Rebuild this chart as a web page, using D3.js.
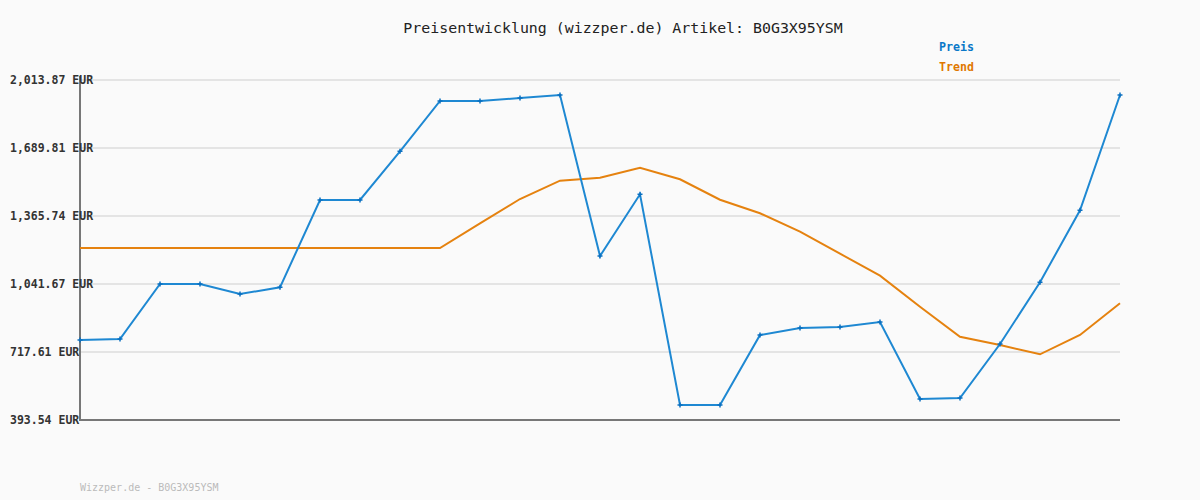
<!DOCTYPE html>
<html><head><meta charset="utf-8">
<script src="https://cdn.jsdelivr.net/npm/d3@7"></script>
<style>
html,body{margin:0;padding:0;background:#fafafa;}
svg{display:block;}
text{font-family:"DejaVu Sans Mono","Liberation Mono",monospace;}
</style></head>
<body>
<svg id="chart" width="1200" height="500"></svg>
<script>
const title = "Preisentwicklung (wizzper.de) Artikel: B0G3X95YSM";
const footer = "Wizzper.de - B0G3X95YSM";
const seriesNames = ["Preis", "Trend"];
const tickValues = [393.54, 717.61, 1041.67, 1365.74, 1689.81, 2013.87];
const priceValues = [774.8, 779.6, 1041.7, 1041.7, 994.0, 1025.9, 1442.0, 1442.0, 1674.1, 1913.8,
  1913.8, 1928.1, 1942.4, 1175.1, 1469.1, 465.0, 465.0, 798.6, 832.0, 836.8,
  860.6, 493.6, 498.4, 755.7, 1049.8, 1392.9, 1942.4];
const trendValues = [1213.2, 1213.2, 1213.2, 1213.2, 1213.2, 1213.2, 1213.2, 1213.2, 1213.2, 1213.2,
  1330.9, 1446.7, 1533.9, 1548.2, 1595.9, 1540.6, 1443.4, 1378.6, 1290.9, 1186.1,
  1081.2, 933.5, 790.5, 751.0, 706.6, 798.6, 949.7];

(function () {
const svg = d3.select("#chart");
const pl = 80, pr = 1120, pt = 80, pb = 420;
const x = d3.scaleLinear().domain([0, priceValues.length - 1]).range([pl, pr]);
const y = d3.scaleLinear().domain([tickValues[0], tickValues[tickValues.length - 1]]).range([pb, pt]);

svg.append("rect").attr("width", 1200).attr("height", 500).attr("fill", "#fafafa");

// grid
svg.append("g").selectAll("line").data(tickValues.slice(1)).join("line")
  .attr("x1", pl).attr("x2", pr)
  .attr("y1", d => y(d)).attr("y2", d => y(d))
  .attr("stroke", "#e4e4e4").attr("stroke-width", 2);

// axes lines
svg.append("line").attr("x1", pl).attr("x2", pl).attr("y1", pt - 4).attr("y2", pb)
  .attr("stroke", "#777").attr("stroke-width", 2);
svg.append("line").attr("x1", pl - 1).attr("x2", pr).attr("y1", pb).attr("y2", pb)
  .attr("stroke", "#777").attr("stroke-width", 2);

// y labels
const fmt = d3.format(",.2f");
svg.append("g").selectAll("text").data(tickValues).join("text")
  .attr("x", 10).attr("y", d => y(d) + 4)
  .attr("font-size", "11.5px").attr("font-weight", "bold").attr("fill", "#333")
  .text(d => fmt(d) + " EUR");

const line = d3.line().x((d, i) => x(i)).y(d => y(d));

svg.append("path").datum(trendValues).attr("d", line)
  .attr("fill", "none").attr("stroke", "#e5820f").attr("stroke-width", 2);

svg.append("path").datum(priceValues).attr("d", line)
  .attr("fill", "none").attr("stroke", "#1e88d2").attr("stroke-width", 2);

// markers
const mk = svg.append("g");
priceValues.forEach((v, i) => {
  const cx = x(i), cy = y(v);
  mk.append("path").attr("d", `M${cx-2.5},${cy}L${cx+2.5},${cy}M${cx},${cy-2.5}L${cx},${cy+2.5}`)
    .attr("stroke", "#0a6fc0").attr("stroke-width", 1.5);
});

// title
svg.append("text").attr("x", 623).attr("y", 33).attr("text-anchor", "middle")
  .attr("font-size", "14.9px").attr("fill", "#222").text(title);

// legend
const legColors = ["#0a78c8", "#e07800"];
svg.append("g").selectAll("text").data(seriesNames).join("text")
  .attr("x", 939).attr("y", (d, i) => 51 + i * 20)
  .attr("font-size", "11.6px").attr("font-weight", "bold")
  .attr("fill", (d, i) => legColors[i]).text(d => d);

// footer
svg.append("text").attr("x", 80).attr("y", 491).attr("font-size", "10px")
  .attr("fill", "#bbb").text(footer);
})();
</script>
</body></html>
